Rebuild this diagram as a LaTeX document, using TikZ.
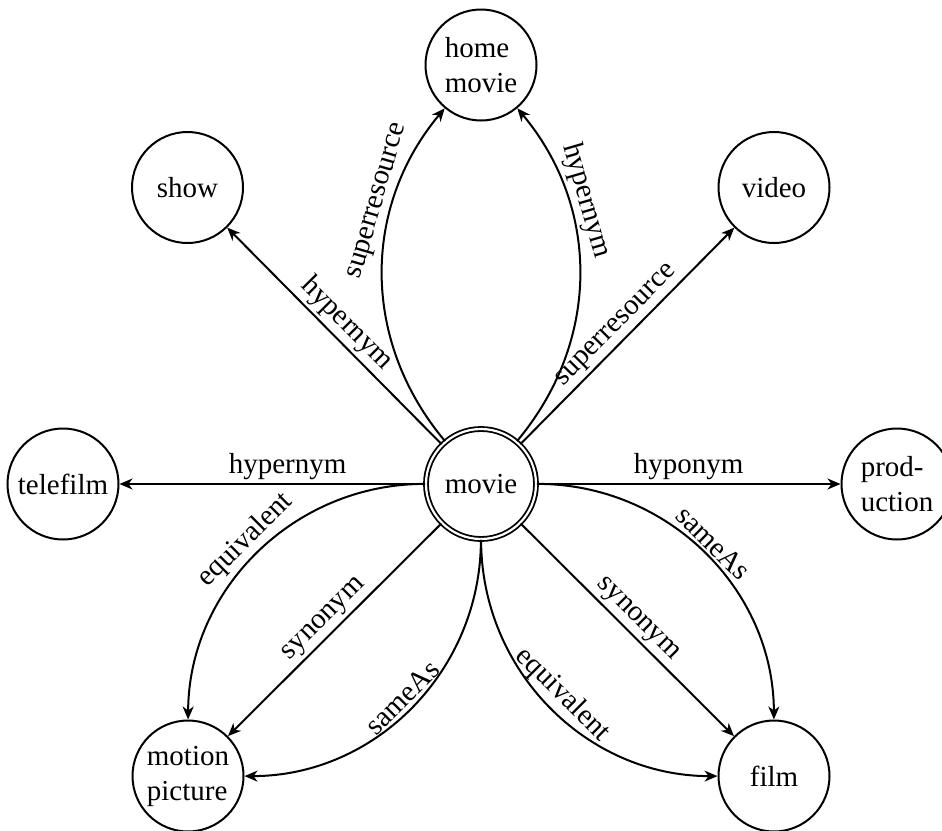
\documentclass[tikz,border=0pt]{standalone}
\usepackage{fontspec}
\setmainfont{Liberation Serif}
\usetikzlibrary{arrows.meta}
\begin{document}
\begin{tikzpicture}[x=1pt,y=-1pt, line width=2pt,
  every node/.style={font=\fontsize{29}{35}\selectfont},
  ent/.style={circle, draw, line width=2pt, minimum size=111pt, inner sep=0pt, align=left},
  arr/.style={-{Stealth[length=13pt,width=11pt,inset=4pt]}},
  lab/.style={sloped, above, inner sep=3pt}]
\useasboundingbox (0,0) rectangle (942,830);
\node[ent, double, line width=1.8pt, double distance=2.2pt, minimum size=110pt] (movie) at (481,484) {movie};
\node[ent] (home) at (481,65) {home\\movie};
\node[ent] (show) at (187.5,187.5) {show};
\node[ent] (video) at (774,187.5) {video};
\node[ent] (telefilm) at (63,484) {telefilm};
\node[ent] (prod) at (897,484) {prod-\\uction};
\node[ent] (mp) at (188,776) {motion\\picture};
\node[ent] (film) at (774,776) {film};

\draw[arr] (movie) -- node[lab] {hypernym} (show);
\draw[arr] (movie) -- node[lab] {superresource} (video);
\draw[arr] (movie) -- node[lab, pos=0.45] {hypernym} (telefilm);
\draw[arr] (movie) -- node[lab] {hyponym} (prod);
\draw[arr] (movie) to[bend left=40] node[lab, pos=0.7] {superresource} (home);
\draw[arr] (movie) to[bend right=40] node[lab, pos=0.7] {hypernym} (home);
\draw[arr] (movie) -- node[lab] {synonym} (mp);
\draw[arr] (movie) to[bend right=45] node[lab] {equivalent} (mp);
\draw[arr] (movie) to[bend left=45] node[lab] {sameAs} (mp);
\draw[arr] (movie) -- node[lab] {synonym} (film);
\draw[arr] (movie) to[bend left=45] node[lab] {sameAs} (film);
\draw[arr] (movie) to[bend right=45] node[lab] {equivalent} (film);
\end{tikzpicture}
\end{document}
